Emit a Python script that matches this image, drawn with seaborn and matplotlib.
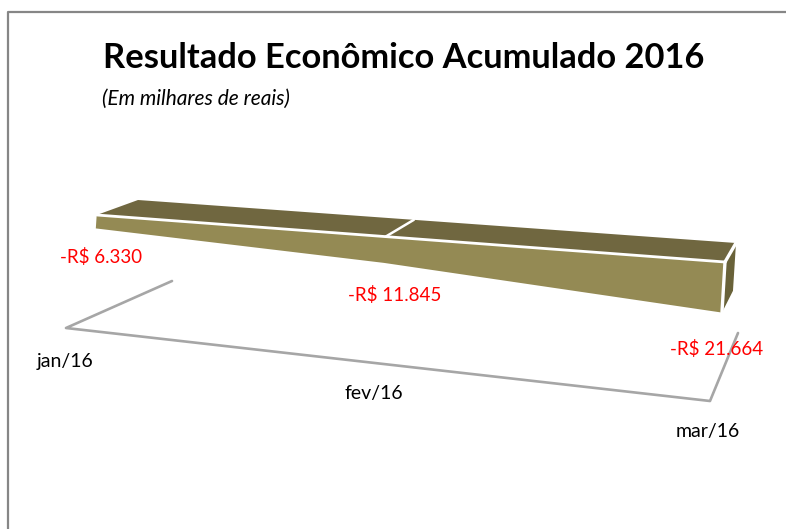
import numpy as np
import pandas as pd
import matplotlib
matplotlib.use("Agg")
import matplotlib.pyplot as plt
import seaborn as sns

categories = ["jan/16", "fev/16", "mar/16"]
values = [6330, 11845, 21664]
value_labels = ["-R$ 6.330", "-R$ 11.845", "-R$ 21.664"]

TITLE = "Resultado Econômico Acumulado 2016"
SUBTITLE = "(Em milhares de reais)"

OLIVE_FRONT = "#948A54"
OLIVE_TOP = "#706740"
OLIVE_SIDE = "#696239"
FLOOR_GRAY = "#A6A6A6"
BORDER_GRAY = "#868686"

# the 3d box is faked: two perspective planes, in pixels of the 786x529 image
TOP_PLANE = [(96.7, 215), (725, 262), (736, 243), (138, 200)]
FLOOR_PLANE = [(66, 328), (710, 401), (738, 333), (172, 281)]
TIME_AXIS = [0, 0.484, 1]  # where each month sits along the plane
PX_PER_VALUE = 0.00212
LEAN_PER_VALUE = 0.00014

CAT_LABEL_POS = [(65, 362), (374, 394), (708, 431)]
VALUE_LABEL_POS = [(101, 257), (395, 295), (717, 349)]


def make_plane(corners):
    # homography from unit square (u along time, v along depth) to pixels
    src = [(0, 0), (1, 0), (1, 1), (0, 1)]
    A, b = [], []
    for (u, v), (x, y) in zip(src, corners):
        A.append([u, v, 1, 0, 0, 0, -u * x, -v * x])
        A.append([0, 0, 0, u, v, 1, -u * y, -v * y])
        b += [x, y]
    h = np.linalg.solve(np.array(A, dtype=float), np.array(b, dtype=float))
    return np.append(h, 1).reshape(3, 3)


def project(H, cat, depth, value=0.0):
    p = H @ np.array([TIME_AXIS[cat], depth, 1.0])
    x, y = p[0] / p[2], p[1] / p[2]
    # nearer parts of the box look taller
    return x - value * LEAN_PER_VALUE, y + value * PX_PER_VALUE / p[2]


def edge(ax, pts, color, lw):
    df = pd.DataFrame(pts, columns=["x", "y"])
    sns.lineplot(data=df, x="x", y="y", sort=False, estimator=None, color=color,
                 linewidth=lw, ax=ax, legend=False, zorder=5, solid_capstyle="round")


sns.set_theme(style="white")
plt.rcParams["font.family"] = ["Lato", "DejaVu Sans"]

fig = plt.figure(figsize=(7.86, 5.29), dpi=100, facecolor="white")
ax = fig.add_axes([0, 0, 1, 1])
ax.set_xlim(0, 786)
ax.set_ylim(529, 0)
ax.axis("off")

top = make_plane(TOP_PLANE)
floor = make_plane(FLOOR_PLANE)
cats = range(len(categories))

# chart frame, right and bottom sides are cut off in the picture
ax.plot([8, 8, 786], [529, 12, 12], color=BORDER_GRAY, lw=1.6)

# floor lines
floor_pts = [project(floor, 0, 1), project(floor, 0, 0),
             project(floor, 2, 0), project(floor, 2, 1)]
edge(ax, floor_pts, FLOOR_GRAY, 1.9)

# top of the box
top_face = [project(top, c, 0) for c in cats] + [project(top, c, 1) for c in reversed(cats)]
ax.fill(*zip(*top_face), color=OLIVE_TOP, lw=0, zorder=2)

# front of the box, hanging down by the value
front_face = [project(top, c, 0) for c in cats] + \
             [project(top, c, 0, values[c]) for c in reversed(cats)]
ax.fill(*zip(*front_face), color=OLIVE_FRONT, lw=0, zorder=3)

# right end
last = len(categories) - 1
side_face = [project(top, last, 0), project(top, last, 1),
             project(top, last, 1, values[last]), project(top, last, 0, values[last])]
ax.fill(*zip(*side_face), color=OLIVE_SIDE, lw=0, zorder=2)

# white edges
edge(ax, [project(top, c, 0) for c in cats], "white", 2.0)
edge(ax, [project(top, 1, 0), project(top, 1, 1)], "white", 1.8)
edge(ax, [project(top, last, 0), project(top, last, 1)], "white", 2.4)
edge(ax, [project(top, last, 0), project(top, last, 0, values[last])], "white", 2.4)
ax.set_xlabel("")
ax.set_ylabel("")

for name, (x, y) in zip(categories, CAT_LABEL_POS):
    ax.text(x, y, name, ha="center", va="center", fontsize=14, color="black", zorder=6)
for lab, (x, y) in zip(value_labels, VALUE_LABEL_POS):
    ax.text(x, y, lab, ha="center", va="center", fontsize=13.5, color="#FF0000", zorder=6)

ax.text(404, 58, TITLE, ha="center", va="center", fontsize=24.8, fontweight="bold", color="black")
ax.text(196, 99, SUBTITLE, ha="center", va="center", fontsize=15, style="italic", color="black")

fig.savefig("out.png", dpi=100)
